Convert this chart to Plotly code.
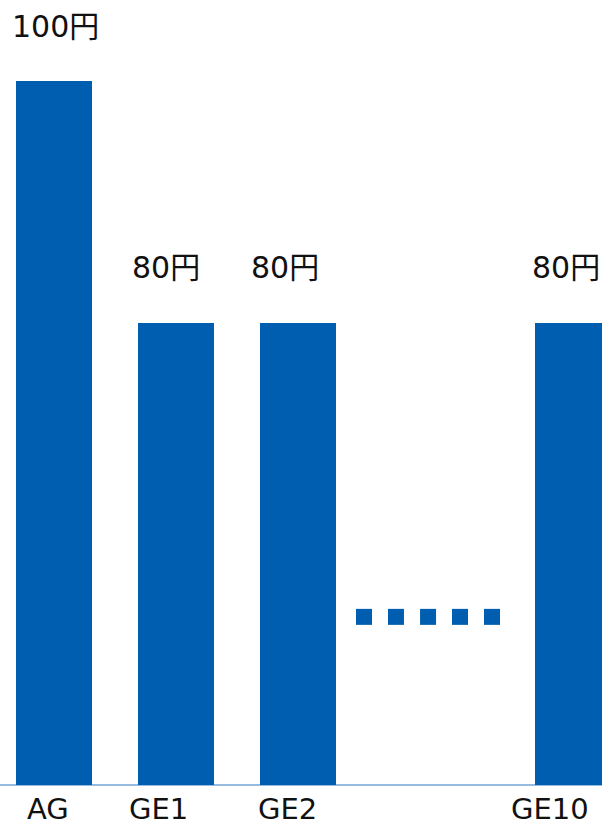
import plotly.graph_objects as go

categories = ["AG", "GE1", "GE2", "GE10"]
x_positions = [0, 1, 2, 4.25]
values = [100, 80, 80, 80]
value_labels = ["100円", "80円", "80円", "80円"]
value_label_shift = [1, -10, -13, -7]
tick_label_shift = [-6, -18, -11, -23]

dots_x = [2.541, 2.803, 3.066, 3.328, 3.590]
dots_y = [55.7, 55.7, 55.7, 55.7, 55.7]

BLUE = "#005EB0"
FONT = "DejaVu Sans, Noto Sans CJK JP, sans-serif"

fig = go.Figure()
fig.add_trace(go.Bar(
    x=x_positions, y=values, width=0.623,
    marker=dict(color=BLUE, line=dict(width=0)),
    hoverinfo="skip",
))
fig.add_trace(go.Scatter(
    x=dots_x, y=dots_y, mode="markers",
    marker=dict(symbol="square", size=16, color=BLUE, line=dict(width=0)),
    hoverinfo="skip",
))

for xp, v, lab, s in zip(x_positions, values, value_labels, value_label_shift):
    fig.add_annotation(x=xp, y=v, text=lab, showarrow=False, xref="x", yref="y",
                       yanchor="middle", yshift=55, xshift=s,
                       font=dict(family=FONT, size=30, color="#111111"))
for xp, lab, s in zip(x_positions, categories, tick_label_shift):
    fig.add_annotation(x=xp, y=0, text=lab, showarrow=False, xref="x", yref="paper",
                       yanchor="middle", yshift=-24, xshift=s,
                       font=dict(family=FONT, size=29, color="#111111"))

fig.add_shape(type="line", xref="paper", yref="paper", x0=0, x1=1, y0=0, y1=0,
              line=dict(color="#2f78bd", width=1.2), layer="below")

fig.update_layout(
    width=602, height=826,
    margin=dict(l=0, r=0, t=0, b=41),
    paper_bgcolor="white", plot_bgcolor="white",
    showlegend=False,
    bargap=0,
)
fig.update_xaxes(range=[-54/122, 548/122], showgrid=False, zeroline=False,
                 showticklabels=False, ticks="", showline=False)
fig.update_yaxes(range=[41.8, 106.7], showgrid=False, zeroline=False,
                 showticklabels=False, ticks="", showline=False)

fig.write_html("out.html")
